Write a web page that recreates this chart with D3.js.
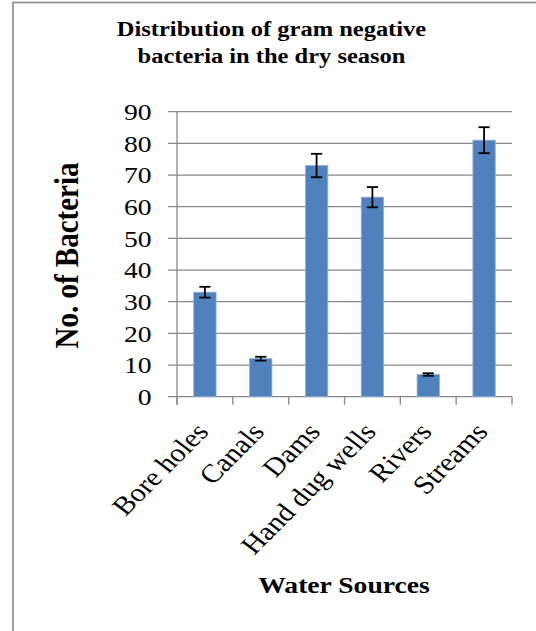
<!DOCTYPE html>
<html>
<head>
<meta charset="utf-8">
<script src="https://cdn.jsdelivr.net/npm/d3@7"></script>
<style>
  html, body { margin: 0; padding: 0; background: #fff; }
  svg { display: block; }
  text { font-family: "Liberation Serif", "Times New Roman", serif; fill: #000; }
</style>
</head>
<body>
<svg id="chart" width="536" height="631"></svg>
<script>
const categories = ["Bore holes", "Canals", "Dams", "Hand dug wells", "Rivers", "Streams"];
const values = [33, 12, 73, 63, 7, 81];
const errors = [1.7, 0.6, 3.7, 3.2, 0.4, 4.1];
const yTicks = [0, 10, 20, 30, 40, 50, 60, 70, 80, 90];
const titleLines = ["Distribution of gram negative", "bacteria in the dry season"];
const yTitle = "No. of Bacteria";
const xTitle = "Water Sources";

const SX = 1.15; // horizontal glyph stretch seen in the reference
const svg = d3.select("#chart");
const gray = "#898989";

// frame (only left and top edges visible)
svg.append("rect").attr("x", 13).attr("y", 2.5).attr("width", 700).attr("height", 800)
  .attr("fill", "#fff").attr("stroke", gray).attr("stroke-width", 1.6);

const plot = { left: 177, right: 512, top: 111.7, bottom: 396.7 };

const x = d3.scaleBand().domain(categories).range([plot.left, plot.right])
  .paddingInner(0.6).paddingOuter(0.3);
const y = d3.scaleLinear().domain([0, 90]).range([plot.bottom, plot.top]);

// gridlines + y ticks
const grid = svg.append("g");
grid.selectAll("line").data(yTicks).join("line")
  .attr("x1", plot.left - 9).attr("x2", plot.right)
  .attr("y1", d => y(d)).attr("y2", d => y(d))
  .attr("stroke", gray).attr("stroke-width", 1.3);

// y axis line
svg.append("line").attr("x1", plot.left).attr("x2", plot.left)
  .attr("y1", y(90)).attr("y2", plot.bottom + 8)
  .attr("stroke", gray).attr("stroke-width", 1.3);

// x tick marks at band boundaries
const bounds = categories.map(c => x(c) - x.step() * x.paddingInner() / 2);
bounds.push(plot.right);
svg.append("g").selectAll("line").data(bounds).join("line")
  .attr("x1", d => d).attr("x2", d => d)
  .attr("y1", plot.bottom).attr("y2", plot.bottom + 8)
  .attr("stroke", gray).attr("stroke-width", 1.3);

// bars
svg.append("g").selectAll("rect").data(categories).join("rect")
  .attr("x", d => x(d)).attr("width", x.bandwidth())
  .attr("y", (d, i) => y(values[i])).attr("height", (d, i) => plot.bottom - y(values[i]))
  .attr("fill", "#4f81bd").attr("stroke", "#8fb0d8").attr("stroke-width", 0.8);

// error bars
const eb = svg.append("g").attr("stroke", "#000").attr("stroke-width", 1.8);
categories.forEach((c, i) => {
  const cx = x(c) + x.bandwidth() / 2;
  const hi = y(values[i] + errors[i]), lo = y(values[i] - errors[i]);
  eb.append("line").attr("x1", cx).attr("x2", cx).attr("y1", hi).attr("y2", lo);
  eb.append("line").attr("x1", cx - 5.6).attr("x2", cx + 5.6).attr("y1", hi).attr("y2", hi);
  eb.append("line").attr("x1", cx - 5.6).attr("x2", cx + 5.6).attr("y1", lo).attr("y2", lo);
});

// y tick labels
svg.append("g").selectAll("text").data(yTicks).join("text")
  .attr("transform", d => `translate(151.5,${y(d) + 8.3}) scale(${SX},1)`)
  .attr("text-anchor", "end").style("font-size", "24px")
  .text(d => d);

// x category labels (rotated 45° on screen after the horizontal stretch)
svg.append("g").selectAll("text").data(categories).join("text")
  .attr("transform", d => `translate(${x(d) + x.bandwidth() / 2 + 5},${plot.bottom + 36}) scale(${SX},1) rotate(-49)`)
  .attr("text-anchor", "end").style("font-size", "26px")
  .text(d => d);

// title
svg.append("g").selectAll("text").data(titleLines).join("text")
  .attr("transform", (d, i) => `translate(271.5,${35.7 + i * 27.6}) scale(${SX},1)`)
  .attr("text-anchor", "middle").style("font-size", "21.3px").style("font-weight", "bold")
  .text(d => d);

// y axis title
svg.append("text")
  .attr("transform", `translate(78,255.5) scale(${SX},1) rotate(-90)`)
  .attr("text-anchor", "middle").style("font-size", "29px").style("font-weight", "bold")
  .text(yTitle);

// x axis title
svg.append("text")
  .attr("transform", `translate(344,593.3) scale(${SX},1)`)
  .attr("text-anchor", "middle").style("font-size", "24px").style("font-weight", "bold")
  .text(xTitle);
</script>
</body>
</html>
